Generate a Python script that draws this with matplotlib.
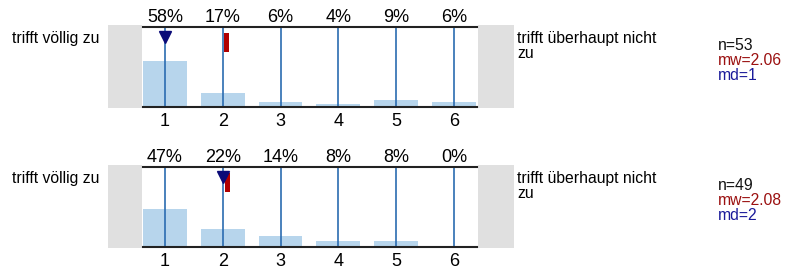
import numpy as np
import matplotlib
matplotlib.use('Agg')
import matplotlib.pyplot as plt
import matplotlib.transforms as mtransforms

plt.rcParams['font.family'] = ['Liberation Sans', 'DejaVu Sans']

categories = [1, 2, 3, 4, 5, 6]
pct_top = [58, 17, 6, 4, 9, 6]
pct_bottom = [47, 22, 14, 8, 8, 0]
n_vals = [53, 49]
mw_vals = [2.06, 2.08]
md_vals = [1, 2]
left_label = 'trifft völlig zu'
right_label = ['trifft überhaupt nicht', 'zu']

W, H = 802, 269
fig = plt.figure(figsize=(W / 100, H / 100), dpi=100)

bar_col = '#b7d5ec'
line_col = '#2b6cb0'
gray = '#e0e0e0'


def fx(px):
    return px / W


def fy(py):
    return 1 - py / H


panels = [pct_top, pct_bottom]
for i, pct in enumerate(panels):
    off = 140 * i
    # gray end boxes
    for x0, x1 in [(108, 142), (478, 514)]:
        g = fig.add_axes([fx(x0), fy(108 + off), fx(x1 - x0), (83) / H])
        g.set_facecolor(gray)
        g.set_xticks([])
        g.set_yticks([])
        for s in g.spines.values():
            s.set_visible(False)

    ax = fig.add_axes([fx(143), fy(107 + off), fx(477 - 143), 80 / H])
    ax.bar(categories, pct, width=0.76, color=bar_col, zorder=1)
    for c in categories:
        ax.axvline(c, color=line_col, lw=1.2, zorder=2)
    ax.set_xlim(0.62, 6.4)
    ax.set_ylim(0, 100)
    ax.set_yticks([])
    ax.set_xticks(categories)
    ax.set_xticklabels([str(c) for c in categories], fontsize=13)
    ax.tick_params(axis='x', length=0, pad=4)
    ax.spines['left'].set_visible(False)
    ax.spines['right'].set_visible(False)
    ax.spines['top'].set_linewidth(1.5)
    ax.spines['bottom'].set_linewidth(1.5)
    ax.spines['top'].set_color('#222222')
    ax.spines['bottom'].set_color('#222222')

    trans = mtransforms.blended_transform_factory(ax.transData, ax.transAxes)
    for c, p in zip(categories, pct):
        ax.text(c, 1.015, f'{p}%', transform=trans, ha='center', va='bottom',
                fontsize=13)

    # mean marker and median marker
    ax.bar(mw_vals[i], 24, bottom=69, width=0.09, color='#b00000', zorder=3)
    ax.plot(md_vals[i], 87.5, marker='v', ms=8, color='#0a0a78', zorder=4,
            linestyle='none')

    fig.text(fx(12), fy(43 + off), left_label, fontsize=11.3, va='baseline')
    fig.text(fx(517), fy(43 + off), right_label[0], fontsize=11.3,
             va='baseline')
    fig.text(fx(517), fy(58 + off), right_label[1], fontsize=11.3,
             va='baseline')
    fig.text(fx(718), fy(50 + off), f'n={n_vals[i]}', fontsize=11.3,
             va='baseline', color='#111111')
    fig.text(fx(718), fy(65 + off), f'mw={mw_vals[i]:.2f}', fontsize=11.3,
             va='baseline', color='#9b1010')
    fig.text(fx(718), fy(80 + off), f'md={md_vals[i]}', fontsize=11.3,
             va='baseline', color='#1a1a9a')

fig.savefig('out.png', dpi=100)
